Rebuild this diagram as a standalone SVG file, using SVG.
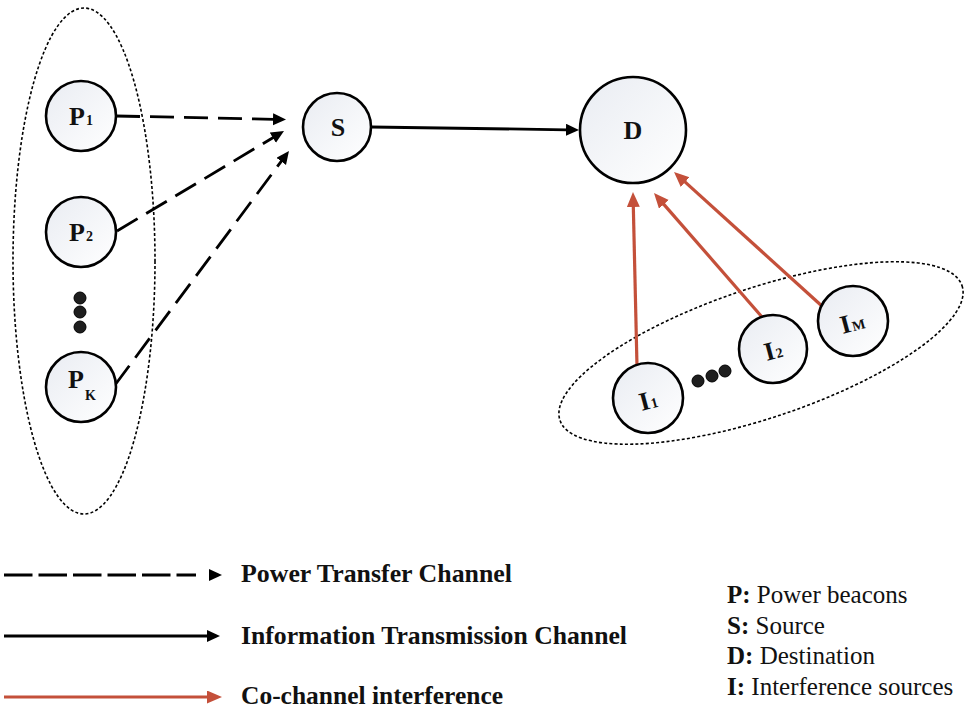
<svg xmlns="http://www.w3.org/2000/svg" xmlns:xlink="http://www.w3.org/1999/xlink" width="967" height="710" viewBox="0 0 967 710">
<style>
.node{stroke:#000;stroke-width:2.6;fill:url(#ng)}
.lbl{font-family:"Liberation Serif","Times New Roman",serif;font-weight:bold;font-size:26px;fill:#111}
.sub{font-family:"Liberation Serif","Times New Roman",serif;font-weight:bold;font-size:14px;fill:#111}
.grp{fill:none;stroke:#000;stroke-width:1.6;stroke-dasharray:3 2.2}
.dash{fill:none;stroke:#000;stroke-width:2.8;stroke-dasharray:24 10}
.solid{fill:none;stroke:#000;stroke-width:2.8}
.red{fill:none;stroke:#c4503a;stroke-width:3.2}
.dot{fill:#1e1e1e;stroke:#000;stroke-width:1}
.leg{font-family:"Liberation Serif","Times New Roman",serif;font-weight:bold;font-size:26px;fill:#111}
.key{font-family:"Liberation Serif","Times New Roman",serif;font-size:25px;fill:#111}
</style>
<defs>
<linearGradient id="ng" x1="0" y1="0" x2="1" y2="1">
<stop offset="0" stop-color="#e9ecf2"/>
<stop offset="1" stop-color="#ffffff"/>
</linearGradient>
<marker id="ak" markerUnits="userSpaceOnUse" markerWidth="14" markerHeight="14" refX="1" refY="6" orient="auto">
<path d="M0,0 L13,6 L0,12 z" fill="#000"/>
</marker>
<marker id="ar" markerUnits="userSpaceOnUse" markerWidth="16" markerHeight="14" refX="1" refY="6.5" orient="auto">
<path d="M0,0 L15,6.5 L0,13 z" fill="#c4503a"/>
</marker>
<path id="headK" d="M0,-6 L13,0 L0,6 z" fill="#000"/>
</defs>

<g id="group-P">
<ellipse class="grp" cx="84" cy="261" rx="71" ry="253"/>
</g>
<g id="group-I">
<ellipse class="grp" cx="761" cy="353" rx="212" ry="65" transform="rotate(-18.5 761 353)"/>
</g>

<g id="connectors">
<path class="dash" d="M116,116 L274,119.3" marker-end="url(#ak)"/>
<path class="dash" d="M117,231 L273.7,137.2" marker-end="url(#ak)"/>
<path class="dash" d="M115,385 L281.8,160.6" marker-end="url(#ak)"/>
<path class="solid" d="M371,127 L567,129.8" marker-end="url(#ak)"/>
<path class="red" d="M637,366 L633.3,206" marker-end="url(#ar)"/>
<path class="red" d="M762,317 L663.2,203.6" marker-end="url(#ar)"/>
<path class="red" d="M823,307 L684.4,181.4" marker-end="url(#ar)"/>
</g>

<g id="node-P1">
<circle class="node" cx="81" cy="116" r="35"/>
<text class="lbl" x="69" y="125">P</text><text class="sub" x="86" y="125">1</text>
</g>
<g id="node-P2">
<circle class="node" cx="81" cy="232" r="35"/>
<text class="lbl" x="69" y="241">P</text><text class="sub" x="86" y="241">2</text>
</g>
<g id="dots-P">
<circle class="dot" cx="80" cy="298" r="6"/>
<circle class="dot" cx="80" cy="312" r="6"/>
<circle class="dot" cx="80" cy="327" r="6"/>
</g>
<g id="node-PK">
<circle class="node" cx="81" cy="387" r="35"/>
<text class="lbl" x="68" y="388">P</text><text class="sub" x="85" y="400">K</text>
</g>
<g id="node-S">
<circle class="node" cx="337" cy="127" r="34"/>
<text class="lbl" x="338" y="136" text-anchor="middle">S</text>
</g>
<g id="node-D">
<circle class="node" cx="633" cy="130" r="53"/>
<text class="lbl" x="633" y="139" text-anchor="middle">D</text>
</g>
<g id="node-I1">
<circle class="node" cx="648" cy="398" r="35"/>
<g transform="rotate(-15 648 400)"><text class="lbl" x="639" y="409">I</text><text class="sub" x="650" y="409">1</text></g>
</g>
<g id="dots-I">
<circle class="dot" cx="698" cy="381" r="6"/>
<circle class="dot" cx="712" cy="376" r="6"/>
<circle class="dot" cx="725" cy="371" r="6"/>
</g>
<g id="node-I2">
<circle class="node" cx="773" cy="349" r="34"/>
<g transform="rotate(-15 773 350)"><text class="lbl" x="764" y="359">I</text><text class="sub" x="775" y="359">2</text></g>
</g>
<g id="node-IM">
<circle class="node" cx="853" cy="321" r="35"/>
<g transform="rotate(-15 853 322)"><text class="lbl" x="840" y="331">I</text><text class="sub" x="851" y="331">M</text></g>
</g>

<g id="legend">
<line class="dash" x1="4" y1="575" x2="196" y2="575" style="stroke-dasharray:28.5 6"/>
<use xlink:href="#headK" x="209" y="575"/>
<text class="leg" x="241" y="582" textLength="271" lengthAdjust="spacingAndGlyphs">Power Transfer Channel</text>
<line class="solid" x1="4" y1="636" x2="208" y2="636" marker-end="url(#ak)"/>
<text class="leg" x="241" y="644" textLength="386" lengthAdjust="spacingAndGlyphs">Information Transmission Channel</text>
<line class="red" x1="4" y1="697" x2="208" y2="697" marker-end="url(#ar)"/>
<text class="leg" x="241" y="704" textLength="262" lengthAdjust="spacingAndGlyphs">Co-channel interference</text>
</g>
<g id="key">
<text class="key" x="727" y="603"><tspan font-weight="bold">P:</tspan> Power beacons</text>
<text class="key" x="727" y="634"><tspan font-weight="bold">S:</tspan> Source</text>
<text class="key" x="727" y="664"><tspan font-weight="bold">D:</tspan> Destination</text>
<text class="key" x="727" y="695"><tspan font-weight="bold">I:</tspan> Interference sources</text>
</g>
</svg>
